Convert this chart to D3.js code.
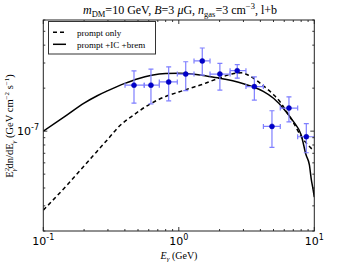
<!DOCTYPE html>
<html><head><meta charset="utf-8">
<script src="https://cdn.jsdelivr.net/npm/d3@7"></script>
<style>body{margin:0;background:#fff}svg{display:block}</style>
</head><body>
<svg id="c" width="350" height="264"></svg>
<script>
// Data points (Fermi-like spectrum)
const dataE     = [0.467, 0.623, 0.842, 1.125, 1.49, 2.01, 2.70, 3.61, 4.87, 6.50, 8.73];
const dataELow  = [0.401, 0.556, 0.718, 0.975, 1.295, 1.70, 2.39, 3.13, 4.21, 5.61, 7.54];
const dataEHigh = [0.556, 0.718, 0.975, 1.295, 1.70, 2.39, 3.13, 4.21, 5.61, 7.54, 10.07];
const dataFlux  = [2.10e-7, 2.10e-7, 2.21e-7, 2.51e-7, 3.10e-7, 2.51e-7, 2.65e-7, 2.05e-7, 1.08e-7, 1.45e-7, 9.14e-8];
const dataFluxLow  = [1.57e-7, 1.55e-7, 1.63e-7, 1.92e-7, 2.47e-7, 1.94e-7, 2.35e-7, 1.65e-7, 7.70e-8, 1.16e-7, 7.06e-8];
const dataFluxHigh = [2.64e-7, 2.72e-7, 2.82e-7, 3.06e-7, 3.82e-7, 2.98e-7, 2.92e-7, 2.40e-7, 1.39e-7, 1.74e-7, 1.13e-7];

// Model curves
const promptE    = [0.1, 0.15, 0.2, 0.3, 0.37, 0.45, 0.6, 0.8, 1.0, 1.14, 1.5, 2.0, 2.5, 2.9, 3.3, 4.2, 5.0, 5.6, 6.3, 7.0, 8.1, 9.0, 9.6];
const promptFlux = [2.8e-8, 4.2e-8, 5.7e-8, 8.8e-8, 1.1e-7, 1.27e-7, 1.53e-7, 1.75e-7, 1.88e-7, 1.96e-7, 2.13e-7, 2.36e-7, 2.52e-7, 2.56e-7, 2.45e-7, 2.08e-7, 1.8e-7, 1.6e-7, 1.35e-7, 1.15e-7, 9.0e-8, 8.0e-8, 7.5e-8];
const totalE     = [0.1, 0.15, 0.2, 0.25, 0.3, 0.4, 0.5, 0.63, 0.8, 1.0, 1.3, 1.6, 2.0, 2.5, 3.0, 3.6, 4.2, 5.0, 6.0, 7.0, 8.0, 8.7, 9.2, 9.5, 9.8, 10.0];
const totalFlux  = [1.0e-7, 1.30e-7, 1.57e-7, 1.77e-7, 1.92e-7, 2.16e-7, 2.33e-7, 2.46e-7, 2.53e-7, 2.54e-7, 2.5e-7, 2.43e-7, 2.35e-7, 2.25e-7, 2.15e-7, 2.03e-7, 1.9e-7, 1.7e-7, 1.42e-7, 1.17e-7, 9.4e-8, 6.8e-8, 5.8e-8, 4.6e-8, 3.9e-8, 3.45e-8];

const legendLabels = ["prompt only", "prompt +IC +brem"];
const xTickValues = [0.1, 1, 10];
const xTickExps = ["-1", "0", "1"];
const yTickValues = [1e-7];
const yTickExps = ["-7"];

const svg = d3.select("#c");
const L = 43.3, R = 314.3, T = 20, B = 231;
const x = d3.scaleLog().domain([0.1, 10]).range([L, R]);
const y = d3.scaleLog().domain([2e-8, 6e-7]).range([B, T]);
const serif = "'Liberation Serif','DejaVu Serif',serif";
const sans = "'DejaVu Sans',sans-serif";

svg.append("defs").append("clipPath").attr("id","clp")
  .append("rect").attr("x",L).attr("y",T).attr("width",R-L).attr("height",B-T);

const plot = svg.append("g").attr("clip-path","url(#clp)");

const line = d3.line().x(d=>x(d[0])).y(d=>y(d[1])).curve(d3.curveMonotoneX);
plot.append("path").datum(promptE.map((e,i)=>[e,promptFlux[i]]))
  .attr("d",line).attr("fill","none").attr("stroke","#000").attr("stroke-width",1.5)
  .attr("stroke-dasharray","4,3");
plot.append("path").datum(totalE.map((e,i)=>[e,totalFlux[i]]))
  .attr("d",line).attr("fill","none").attr("stroke","#000").attr("stroke-width",1.5);

// error bars
const eb = plot.append("g").attr("stroke","#7f7fff").attr("stroke-width",1.2).attr("fill","none");
dataE.forEach((e,i)=>{
  const cx = x(e), cy = y(dataFlux[i]);
  const x0 = x(dataELow[i]), x1 = x(dataEHigh[i]);
  const y0 = y(dataFluxLow[i]), y1 = y(dataFluxHigh[i]);
  eb.append("line").attr("x1",x0).attr("x2",x1).attr("y1",cy).attr("y2",cy);
  eb.append("line").attr("x1",cx).attr("x2",cx).attr("y1",y0).attr("y2",y1);
  eb.append("line").attr("x1",cx-2.5).attr("x2",cx+2.5).attr("y1",y0).attr("y2",y0);
  eb.append("line").attr("x1",cx-2.5).attr("x2",cx+2.5).attr("y1",y1).attr("y2",y1);
  eb.append("line").attr("x1",x0).attr("x2",x0).attr("y1",cy-2.5).attr("y2",cy+2.5);
  eb.append("line").attr("x1",x1).attr("x2",x1).attr("y1",cy-2.5).attr("y2",cy+2.5);
});
plot.append("g").selectAll("circle").data(dataE).join("circle")
  .attr("cx",d=>x(d)).attr("cy",(d,i)=>y(dataFlux[i])).attr("r",2.5)
  .attr("fill","#0000cc").attr("stroke","#0000aa").attr("stroke-width",0.5);

// ticks (inside, all four sides)
const tk = svg.append("g").attr("stroke","#000").attr("stroke-width",0.8);
const xMinor = [];
for (let d=0.1; d<10; d*=10) for (let k=1;k<10;k++) xMinor.push(+(d*k).toPrecision(3));
xMinor.push(10);
xMinor.forEach(v=>{
  const major = xTickValues.includes(v);
  const len = major?4:2;
  tk.append("line").attr("x1",x(v)).attr("x2",x(v)).attr("y1",B).attr("y2",B-len);
  tk.append("line").attr("x1",x(v)).attr("x2",x(v)).attr("y1",T).attr("y2",T+len);
});
const yMinor = [];
[1e-8,1e-7].forEach(d=>{for(let k=1;k<10;k++){const v=+(d*k).toPrecision(3); if(v>=2e-8&&v<=6e-7) yMinor.push(v);}});
yMinor.forEach(v=>{
  const major = yTickValues.includes(v);
  const len = major?4:2;
  tk.append("line").attr("y1",y(v)).attr("y2",y(v)).attr("x1",L).attr("x2",L+len);
  tk.append("line").attr("y1",y(v)).attr("y2",y(v)).attr("x1",R).attr("x2",R-len);
});

// frame
svg.append("rect").attr("x",L).attr("y",T).attr("width",R-L).attr("height",B-T)
  .attr("fill","none").attr("stroke","#222").attr("stroke-width",1);

// tick labels
xTickValues.forEach((v,i)=>{
  const t = svg.append("text").attr("x",x(v)).attr("y",245).attr("text-anchor","middle")
    .attr("font-family",sans).attr("font-size",11).attr("fill","#000");
  t.append("tspan").text("10");
  t.append("tspan").attr("dy",-5).attr("font-size",8).text(xTickExps[i]);
});
yTickValues.forEach((v,i)=>{
  const t = svg.append("text").attr("x",39).attr("y",y(v)+4).attr("text-anchor","end")
    .attr("font-family",sans).attr("font-size",11).attr("fill","#000");
  t.append("tspan").text("10");
  t.append("tspan").attr("dy",-5).attr("font-size",8).text(yTickExps[i]);
});

// x label
const xl = svg.append("text").attr("x",179).attr("y",258.5).attr("text-anchor","middle")
  .attr("font-family",serif).attr("font-size",10).attr("fill","#000");
xl.append("tspan").attr("font-style","italic").text("E");
xl.append("tspan").attr("dy",2.5).attr("font-size",7).attr("font-style","italic").text("γ");
xl.append("tspan").attr("dy",-2.5).text(" (GeV)");

// y label
const yl = svg.append("text").attr("transform","translate(13,126) rotate(-90)").attr("text-anchor","middle")
  .attr("font-family",serif).attr("font-size",10.5).attr("fill","#000");
yl.append("tspan").text("E");
yl.append("tspan").attr("dy",-4).attr("font-size",7).text("2");
yl.append("tspan").attr("dx",-3.5).attr("dy",6.5).attr("font-size",7).attr("font-style","italic").text("γ");
yl.append("tspan").attr("dy",-2.5).text("dn/dE");
yl.append("tspan").attr("dy",2.5).attr("font-size",7).attr("font-style","italic").text("γ");
yl.append("tspan").attr("dy",-2.5).text(" (GeV cm");
yl.append("tspan").attr("dy",-4).attr("font-size",7).text("−2");
yl.append("tspan").attr("dy",4).text(" s");
yl.append("tspan").attr("dy",-4).attr("font-size",7).text("−1");
yl.append("tspan").attr("dy",4).text(")");

// title
const ti = svg.append("text").attr("x",180).attr("y",14).attr("text-anchor","middle")
  .attr("font-family",serif).attr("font-size",12).attr("fill","#000");
ti.append("tspan").attr("font-style","italic").text("m");
ti.append("tspan").attr("dy",3).attr("font-size",8.5).text("DM");
ti.append("tspan").attr("dy",-3).text("=10 GeV, ");
ti.append("tspan").attr("font-style","italic").text("B");
ti.append("tspan").text("=3 ");
ti.append("tspan").attr("font-style","italic").text("μ");
ti.append("tspan").text("G, ");
ti.append("tspan").attr("font-style","italic").text("n");
ti.append("tspan").attr("dy",3).attr("font-size",8.5).text("gas");
ti.append("tspan").attr("dy",-3).text("=3 cm");
ti.append("tspan").attr("dy",-5).attr("font-size",8.5).text("−3");
ti.append("tspan").attr("dy",5).text(", l+b");

// legend
const lg = svg.append("g");
lg.append("rect").attr("x",48.5).attr("y",21.5).attr("width",107).attr("height",32.5)
  .attr("fill","#fff").attr("stroke","#333").attr("stroke-width",1);
const styles = ["4,3", null];
legendLabels.forEach((lab,i)=>{
  const yy = 32.3 + i*12;
  const l = lg.append("line").attr("x1",53).attr("x2",66).attr("y1",yy).attr("y2",yy)
    .attr("stroke","#000").attr("stroke-width",1.5);
  if (styles[i]) l.attr("stroke-dasharray",styles[i]);
  lg.append("text").attr("x",77).attr("y",yy+3.3).attr("font-family",serif).attr("font-size",9)
    .attr("fill","#000").text(lab);
});
</script>
</body></html>
